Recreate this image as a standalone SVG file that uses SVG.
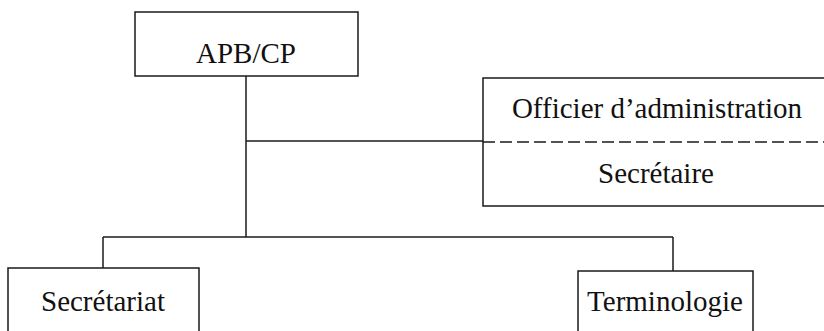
<svg xmlns="http://www.w3.org/2000/svg" width="824" height="331" viewBox="0 0 824 331">
<style>
.box{fill:none;stroke:#1a1a1a;stroke-width:1.5}
.ln{fill:none;stroke:#1a1a1a;stroke-width:1.5}
.t{font-family:"Liberation Serif","Times New Roman",serif;font-size:29px;fill:#111;text-anchor:middle}
</style>
<rect width="824" height="331" fill="#fff"/>
<g id="connectors">
<path class="ln" d="M246 76V237"/>
<path class="ln" d="M246 141H483"/>
<path class="ln" d="M103 237H673"/>
<path class="ln" d="M103 237V268"/>
<path class="ln" d="M673 237V271"/>
</g>
<g id="apb">
<rect class="box" x="135" y="12" width="223" height="64"/>
<text class="t" x="246" y="63">APB/CP</text>
</g>
<g id="officier">
<path class="box" d="M830 78H483V206H830"/>
<path class="ln" d="M483 142H830" stroke-dasharray="12 5"/>
<text class="t" x="657" y="118">Officier d’administration</text>
<text class="t" x="656" y="183">Secrétaire</text>
</g>
<g id="secretariat">
<path class="box" d="M8 340V268H199V340"/>
<text class="t" x="103" y="311">Secrétariat</text>
</g>
<g id="terminologie">
<path class="box" d="M578 340V271H753V340"/>
<text class="t" x="665" y="311">Terminologie</text>
</g>
</svg>
